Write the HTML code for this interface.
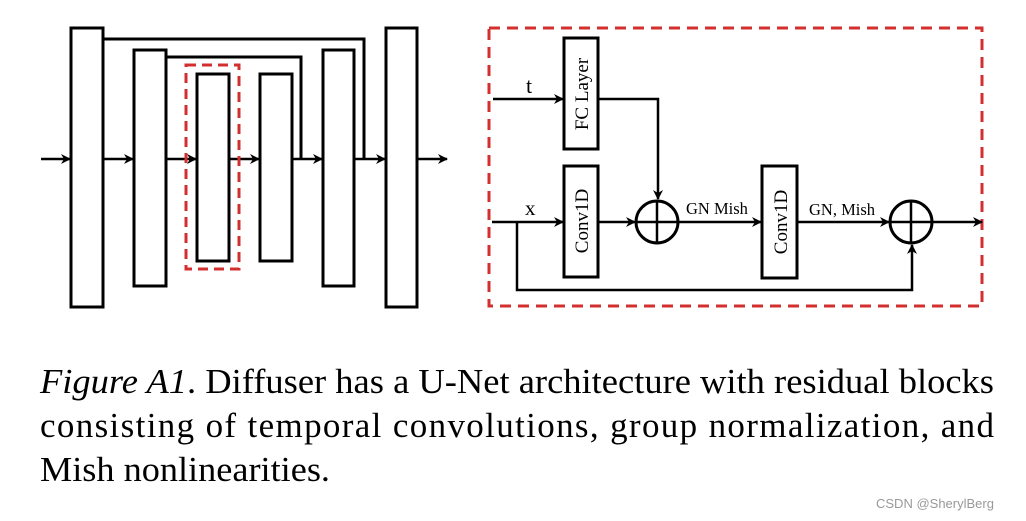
<!DOCTYPE html>
<html><head><meta charset="utf-8"><style>
html,body{margin:0;padding:0;background:#fff;}
svg{display:block;}
</style></head><body>
<svg width="1026" height="521" viewBox="0 0 1026 521" xmlns="http://www.w3.org/2000/svg">
<defs>
<marker id="ah" viewBox="0 0 10 10" refX="9" refY="5" markerWidth="11" markerHeight="10" markerUnits="userSpaceOnUse" orient="auto">
<path d="M0,0 L10,5 L0,10 L3,5 z" fill="#000"/>
</marker>
</defs>
<g fill="none" stroke="#000" stroke-width="3">
<rect x="71" y="28" width="32" height="279" fill="#fff"/>
<rect x="134" y="50" width="32" height="236" fill="#fff"/>
<rect x="197" y="74" width="32" height="187" fill="#fff"/>
<rect x="260" y="74" width="32" height="187" fill="#fff"/>
<rect x="323" y="50" width="31" height="236" fill="#fff"/>
<rect x="386" y="28" width="31" height="279" fill="#fff"/>
<path d="M103,39 H364 V159"/>
<path d="M166,57 H301 V159"/>
</g>
<g stroke="#000" stroke-width="2.5" marker-end="url(#ah)">
<line x1="41" y1="159" x2="70" y2="159"/>
<line x1="103" y1="159" x2="133" y2="159"/>
<line x1="166" y1="159" x2="196" y2="159"/>
<line x1="229" y1="159" x2="259" y2="159"/>
<line x1="292" y1="159" x2="322" y2="159"/>
<line x1="354" y1="159" x2="385" y2="159"/>
<line x1="417" y1="159" x2="447" y2="159"/>
</g>
<rect x="186" y="65" width="53" height="204" fill="none" stroke="#d32f2f" stroke-width="3" stroke-dasharray="10,6"/>

<rect x="489" y="28" width="493" height="278" fill="none" stroke="#d32f2f" stroke-width="3" stroke-dasharray="11,7"/>
<g fill="#fff" stroke="#000" stroke-width="3">
<rect x="564" y="38" width="34" height="111"/>
<rect x="564" y="166" width="34" height="111"/>
<rect x="762" y="166" width="35" height="112"/>
<circle cx="657" cy="222" r="21"/>
<circle cx="911" cy="222" r="21"/>
</g>
<g stroke="#000" stroke-width="2.5">
<line x1="657" y1="201" x2="657" y2="243"/><line x1="636" y1="222" x2="678" y2="222"/>
<line x1="911" y1="201" x2="911" y2="243"/><line x1="890" y1="222" x2="932" y2="222"/>
</g>
<g fill="none" stroke="#000" stroke-width="2.5" marker-end="url(#ah)">
<line x1="493" y1="99" x2="563" y2="99"/>
<path d="M598,99 H658 V199"/>
<line x1="492" y1="222" x2="563" y2="222"/>
<line x1="598" y1="222" x2="635" y2="222"/>
<line x1="678" y1="222" x2="761" y2="222"/>
<line x1="797" y1="222" x2="889" y2="222"/>
<path d="M517,222 V290 H912 V245"/>
<line x1="932" y1="222" x2="982" y2="222"/>
</g>
<g font-family="Liberation Serif, serif" fill="#000">
<text x="526" y="93" font-size="22">t</text>
<text x="525" y="215" font-size="21">x</text>
<text x="686" y="214" font-size="16.5">GN Mish</text>
<text x="809" y="215" font-size="16.5">GN, Mish</text>
<text transform="translate(588,94) rotate(-90)" font-size="19" text-anchor="middle">FC Layer</text>
<text transform="translate(588,221) rotate(-90)" font-size="19" text-anchor="middle">Conv1D</text>
<text transform="translate(787,222) rotate(-90)" font-size="19" text-anchor="middle">Conv1D</text>
</g>
<g font-family="Liberation Serif, serif" font-size="35" fill="#000">
<text x="40" y="393" textLength="954" lengthAdjust="spacingAndGlyphs"><tspan font-style="italic">Figure A1</tspan>. Diffuser has a U-Net architecture with residual blocks</text>
<text x="40" y="437" textLength="954" lengthAdjust="spacing">consisting of temporal convolutions, group normalization, and</text>
<text x="40" y="481" textLength="290" lengthAdjust="spacingAndGlyphs">Mish nonlinearities.</text>
</g>
<text x="876" y="508" font-family="Liberation Sans, sans-serif" font-size="13" fill="#999">CSDN @SherylBerg</text>
</svg>
</body></html>
